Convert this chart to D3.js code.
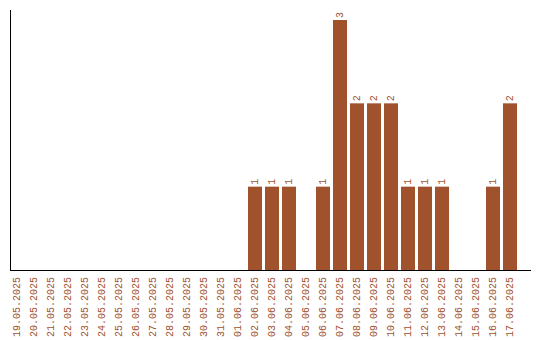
<!DOCTYPE html>
<html>
<head>
<meta charset="utf-8">
<script src="https://cdn.jsdelivr.net/npm/d3@7"></script>
<style>
  body { margin: 0; background: #fff; }
  text { font-family: "Liberation Mono", monospace; }
</style>
</head>
<body>
<div id="chart"></div>
<script>
const dates = [
  "19.05.2025", "20.05.2025", "21.05.2025", "22.05.2025", "23.05.2025",
  "24.05.2025", "25.05.2025", "26.05.2025", "27.05.2025", "28.05.2025",
  "29.05.2025", "30.05.2025", "31.05.2025", "01.06.2025", "02.06.2025",
  "03.06.2025", "04.06.2025", "05.06.2025", "06.06.2025", "07.06.2025",
  "08.06.2025", "09.06.2025", "10.06.2025", "11.06.2025", "12.06.2025",
  "13.06.2025", "14.06.2025", "15.06.2025", "16.06.2025", "17.06.2025"
];

const counts = [
  0, 0, 0, 0, 0,
  0, 0, 0, 0, 0,
  0, 0, 0, 0, 1,
  1, 1, 0, 1, 3,
  2, 2, 2, 1, 1,
  1, 0, 0, 1, 2
];

const w = 540;
const h = 340;
const color = "#a0522d";

const svg = d3.select("#chart")
  .append("svg")
  .attr("width", w)
  .attr("height", h);

const xScale = d3.scaleBand()
  .domain(dates)
  .range([10, 520])
  .paddingInner(3 / 17)
  .paddingOuter(1.5 / 17)
  .align(0);

const yScale = d3.scaleLinear()
  .domain([0, d3.max(counts)])
  .range([270, 20]);

// bars
svg.selectAll("rect")
  .data(counts)
  .enter()
  .append("rect")
  .attr("x", (d, i) => xScale(dates[i]))
  .attr("y", d => yScale(d))
  .attr("width", xScale.bandwidth())
  .attr("height", d => yScale(0) - yScale(d))
  .attr("fill", color);

// value labels above bars (only where there is a bar)
counts.forEach(function (d, i) {
  if (d <= 0) return;
  const cx = xScale(dates[i]) + xScale.bandwidth() / 2;
  svg.append("text")
    .attr("class", "val")
    .attr("transform", "translate(" + cx + "," + (yScale(d) - 2) + ") rotate(-90)")
    .attr("text-anchor", "start")
    .attr("dominant-baseline", "central")
    .attr("fill", color)
    .style("font-size", "10px")
    .text(d);
});

// x labels
const xAxis = d3.axisBottom(xScale).tickSize(0).tickPadding(0);
const gx = svg.append("g")
  .attr("transform", "translate(0,270)")
  .call(xAxis);
gx.select(".domain").remove();
gx.selectAll("text")
  .attr("transform", "rotate(-90)")
  .attr("x", -7)
  .attr("y", 0)
  .attr("dy", null)
  .attr("text-anchor", "end")
  .attr("dominant-baseline", "central")
  .attr("fill", color)
  .style("font-size", "10px")
  .style("font-family", "'Liberation Mono', monospace");

// axis lines
svg.append("line")
  .attr("x1", 10.5).attr("x2", 10.5)
  .attr("y1", 10).attr("y2", 270.5)
  .attr("stroke", "#000");

svg.append("line")
  .attr("x1", 10).attr("x2", 531)
  .attr("y1", 270.5).attr("y2", 270.5)
  .attr("stroke", "#000");
</script>
</body>
</html>
